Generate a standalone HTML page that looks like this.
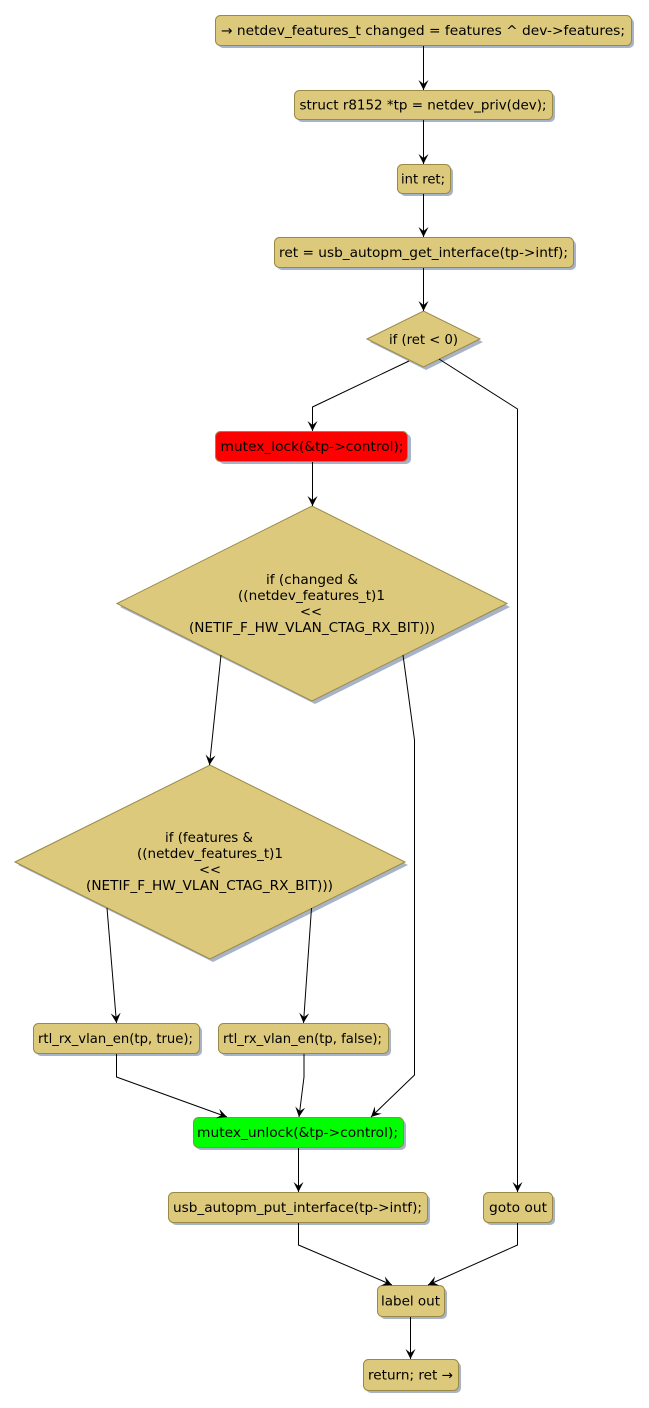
<!DOCTYPE html>
<html>
<head>
<meta charset="utf-8">
<style>
html,body{margin:0;padding:0;background:#fff;}
svg{display:block;}
text{font-family:"DejaVu Sans","Liberation Sans",sans-serif;font-size:13.4px;fill:#000;}
</style>
</head>
<body>
<svg width="649" height="1408" viewBox="0 0 649 1408" xmlns="http://www.w3.org/2000/svg">
<defs>
<marker id="ah" viewBox="0 0 10 10" refX="10" refY="5" markerWidth="10" markerHeight="10" orient="auto" markerUnits="userSpaceOnUse">
<path d="M0,0 L10,5 L0,10 L4,5 Z" fill="#000"/>
</marker>
</defs>

<g fill="#a7b3c9">
<rect x="218" y="18" width="416" height="30" rx="5"/>
<rect x="297" y="93" width="258" height="29" rx="5"/>
<rect x="400" y="167" width="53" height="29" rx="5"/>
<rect x="277" y="240" width="299" height="30" rx="5"/>
<polygon points="370,342 426,314 483,342 426,370"/>
<rect x="219" y="434" width="192" height="30" rx="5"/>
<polygon points="120,607 315,509 510,607 315,704"/>
<polygon points="18,865 213,768 408,865 213,962"/>
<rect x="36" y="1026" width="166" height="30" rx="5"/>
<rect x="221" y="1026" width="170" height="30" rx="5"/>
<rect x="196" y="1120" width="210" height="30" rx="5"/>
<rect x="171" y="1195" width="259" height="30" rx="5"/>
<rect x="486" y="1195" width="69" height="30" rx="5"/>
<rect x="380" y="1288" width="67" height="31" rx="5"/>
<rect x="366" y="1362" width="95" height="31" rx="5"/>
</g>

<g stroke="#9a8945" stroke-width="1" fill="#dcc97c">
<rect x="215.5" y="15.5" width="416" height="30" rx="5"/>
<rect x="294.5" y="90.5" width="258" height="29" rx="5"/>
<rect x="397.5" y="164.5" width="53" height="29" rx="5"/>
<rect x="274.5" y="237.5" width="299" height="30" rx="5"/>
<polygon points="367,339 423.5,311 480,339 423.5,367"/>
<rect x="215.5" y="431.5" width="192" height="30" rx="5" fill="#ff0000"/>
<polygon points="117,603.5 312,506 507,603.5 312,701"/>
<polygon points="15,862 210,765 405,862 210,959"/>
<rect x="33.5" y="1023.5" width="166" height="30" rx="5"/>
<rect x="218.5" y="1023.5" width="170" height="30" rx="5"/>
<rect x="193.5" y="1117.5" width="210" height="30" rx="5" fill="#00ff00"/>
<rect x="168.5" y="1192.5" width="259" height="30" rx="5"/>
<rect x="483.5" y="1192.5" width="69" height="30" rx="5"/>
<rect x="377.5" y="1285.5" width="67" height="31" rx="5"/>
<rect x="363.5" y="1359.5" width="95" height="31" rx="5"/>
</g>

<g stroke="#000" stroke-width="1" fill="none" marker-end="url(#ah)">
<line x1="423.5" y1="46" x2="423.5" y2="90"/>
<line x1="423.5" y1="120" x2="423.5" y2="164"/>
<line x1="423.5" y1="194" x2="423.5" y2="237"/>
<line x1="423.5" y1="268" x2="423.5" y2="311"/>
<polyline points="409,361 312.5,407 312.5,431"/>
<polyline points="439,359 517.5,409 517.5,1192"/>
<line x1="312.5" y1="462" x2="312.5" y2="506"/>
<line x1="221" y1="655" x2="209.5" y2="765"/>
<polyline points="403,655 414.5,740 414.5,1075 371,1117"/>
<line x1="107" y1="908" x2="116.5" y2="1023"/>
<line x1="311.5" y1="908" x2="303.5" y2="1023"/>
<polyline points="116.5,1054 116.5,1077 227,1117"/>
<polyline points="304,1054 304,1077 299,1117"/>
<line x1="298.5" y1="1148" x2="298.5" y2="1192"/>
<polyline points="298.5,1223 298.5,1245 392,1285"/>
<polyline points="517.5,1223 517.5,1245 428,1285"/>
<line x1="410.5" y1="1317" x2="410.5" y2="1359"/>
</g>

<g text-anchor="middle">
<text x="423" y="35" textLength="404" lengthAdjust="spacingAndGlyphs">→ netdev_features_t changed = features ^ dev-&gt;features;</text>
<text x="423" y="109.5" textLength="247" lengthAdjust="spacingAndGlyphs">struct r8152 *tp = netdev_priv(dev);</text>
<text x="423" y="183.5" textLength="44" lengthAdjust="spacingAndGlyphs">int ret;</text>
<text x="423.5" y="257" textLength="289" lengthAdjust="spacingAndGlyphs">ret = usb_autopm_get_interface(tp-&gt;intf);</text>
<text x="423.5" y="344" textLength="69" lengthAdjust="spacingAndGlyphs">if (ret &lt; 0)</text>
<text x="312" y="451" textLength="183" lengthAdjust="spacingAndGlyphs">mutex_lock(&amp;tp-&gt;control);</text>
<text x="312" y="584" textLength="92" lengthAdjust="spacingAndGlyphs">if (changed &amp;</text>
<text x="311.5" y="600" textLength="147" lengthAdjust="spacingAndGlyphs">((netdev_features_t)1</text>
<text x="311" y="616" textLength="22" lengthAdjust="spacingAndGlyphs">&lt;&lt;</text>
<text x="312" y="632" textLength="246" lengthAdjust="spacingAndGlyphs">(NETIF_F_HW_VLAN_CTAG_RX_BIT)))</text>
<text x="209" y="842" textLength="88" lengthAdjust="spacingAndGlyphs">if (features &amp;</text>
<text x="210" y="858" textLength="146" lengthAdjust="spacingAndGlyphs">((netdev_features_t)1</text>
<text x="210" y="874" textLength="22" lengthAdjust="spacingAndGlyphs">&lt;&lt;</text>
<text x="209.5" y="890" textLength="247" lengthAdjust="spacingAndGlyphs">(NETIF_F_HW_VLAN_CTAG_RX_BIT)))</text>
<text x="115.5" y="1043" textLength="155" lengthAdjust="spacingAndGlyphs">rtl_rx_vlan_en(tp, true);</text>
<text x="302.5" y="1043" textLength="159" lengthAdjust="spacingAndGlyphs">rtl_rx_vlan_en(tp, false);</text>
<text x="297.5" y="1137" textLength="201" lengthAdjust="spacingAndGlyphs">mutex_unlock(&amp;tp-&gt;control);</text>
<text x="297.5" y="1212" textLength="249" lengthAdjust="spacingAndGlyphs">usb_autopm_put_interface(tp-&gt;intf);</text>
<text x="518" y="1212" textLength="58" lengthAdjust="spacingAndGlyphs">goto out</text>
<text x="410.5" y="1305.5" textLength="59" lengthAdjust="spacingAndGlyphs">label out</text>
<text x="410.5" y="1379.5" textLength="85" lengthAdjust="spacingAndGlyphs">return; ret →</text>
</g>
</svg>
</body>
</html>
